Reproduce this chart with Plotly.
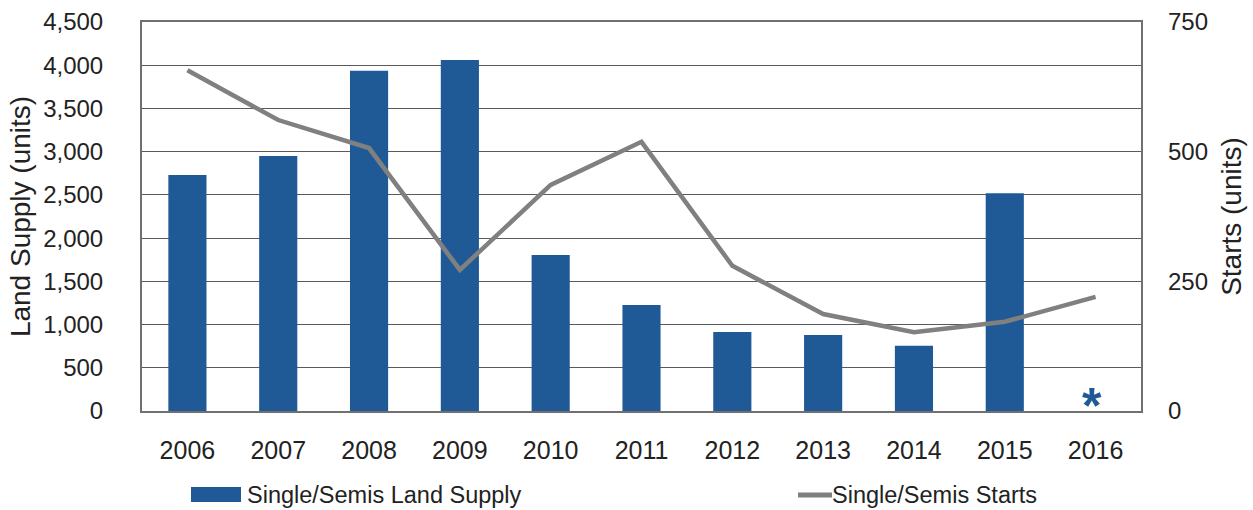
import plotly.graph_objects as go

years = ["2006", "2007", "2008", "2009", "2010", "2011", "2012", "2013", "2014", "2015", "2016"]
land_supply = [2730, 2950, 3935, 4060, 1805, 1225, 915, 880, 755, 2520, None]
starts = [657, 561, 507, 272, 436, 519, 280, 187, 152, 172, 220]

bar_color = "#1F5A97"
line_color = "#808080"
font_family = "Liberation Sans, Arial, sans-serif"

fig = go.Figure()
fig.add_trace(go.Bar(x=years, y=land_supply, name="Single/Semis Land Supply",
                     marker=dict(color=bar_color, line=dict(width=0)), width=0.42,
                     yaxis="y"))
fig.add_trace(go.Scatter(x=years, y=starts, name="Single/Semis Starts", mode="lines",
                         line=dict(color=line_color, width=4.5), yaxis="y2"))

# asterisk marking the missing 2016 land supply value
fig.add_annotation(x=len(years) - 1, y=150, xref="x", yref="y", text="<b>*</b>", showarrow=False,
                   font=dict(size=50, color=bar_color, family=font_family), yanchor="middle",
                   yshift=-8, xshift=-4)

# custom legend
fig.add_shape(type="rect", xref="paper", yref="paper", x0=(191-142)/999, x1=(241-142)/999,
              y0=-(502-411)/389, y1=-(487-411)/389, fillcolor=bar_color, line=dict(width=0))
fig.add_annotation(xref="paper", yref="paper", x=(245-142)/999, y=-(495-411)/389,
                   text="Single/Semis Land Supply", showarrow=False, xanchor="left", yanchor="middle",
                   font=dict(size=23.5, color="#222", family=font_family))
fig.add_shape(type="line", xref="paper", yref="paper", x0=(798-142)/999, x1=(832-142)/999,
              y0=-(495-411)/389, y1=-(495-411)/389, line=dict(color=line_color, width=5))
fig.add_annotation(xref="paper", yref="paper", x=(830-142)/999, y=-(495-411)/389,
                   text="Single/Semis Starts", showarrow=False, xanchor="left", yanchor="middle",
                   font=dict(size=23.5, color="#222", family=font_family))

fig.update_layout(
    width=1253, height=510,
    margin=dict(l=142, r=112, t=22, b=99),
    paper_bgcolor="white", plot_bgcolor="white",
    showlegend=False,
    font=dict(family=font_family, color="#222"),
    xaxis=dict(type="category", range=[-0.5, 10.5], showgrid=False, ticks="", automargin=False,
               tickfont=dict(size=25), ticklabelstandoff=16,
               showline=True, linecolor="#707070", linewidth=2, mirror=True),
    yaxis=dict(range=[0, 4500], dtick=500, tickformat=",", showgrid=True, gridcolor="#5a5a5a",
               gridwidth=1, ticks="", tickfont=dict(size=24), ticklabelstandoff=32, automargin=False,
               showline=True, linecolor="#707070", linewidth=2, mirror=True, zeroline=False,
               title=dict(text="Land Supply (units)", font=dict(size=28), standoff=4)),
    yaxis2=dict(range=[0, 750], tickvals=[0, 250, 500, 750], overlaying="y", side="right",
                showgrid=False, ticks="", tickfont=dict(size=24), ticklabelstandoff=26,
                zeroline=False, showline=False, automargin=False,
                title=dict(text="Starts (units)", font=dict(size=28), standoff=14)),
)

fig.write_html("out.html", config={"displayModeBar": False},
               post_script="document.body.style.margin='0';document.body.style.overflow='hidden';")
